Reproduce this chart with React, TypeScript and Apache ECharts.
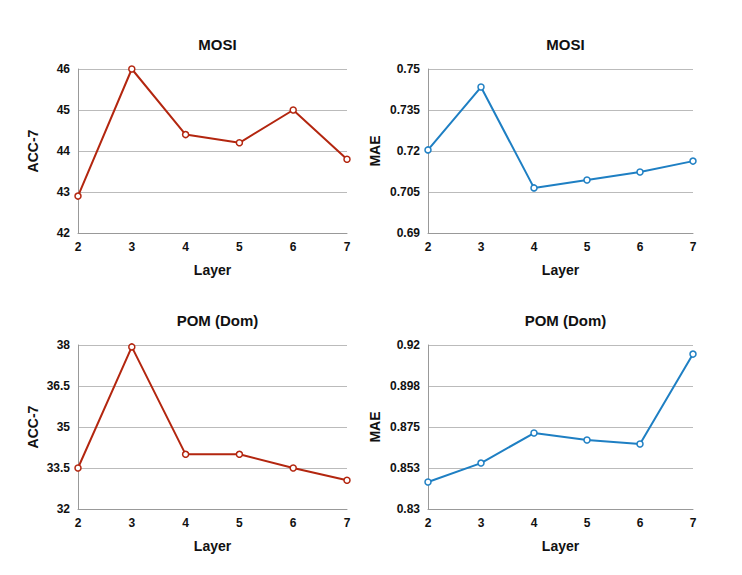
import { useEffect, useRef } from 'react';
import * as echarts from 'echarts';

const layers = ['2', '3', '4', '5', '6', '7'];
const mosiAcc = [42.9, 46.0, 44.4, 44.2, 45.0, 43.8];
const mosiMae = [0.7204, 0.7434, 0.7065, 0.7094, 0.7123, 0.7163];
const pomAcc = [33.5, 37.93, 34.0, 34.0, 33.5, 33.05];
const pomMae = [0.8448, 0.8552, 0.8717, 0.8679, 0.8657, 0.915];
const pomMaeTicks = ['0.83', '0.853', '0.875', '0.898', '0.92'];

const RED = '#b3260f';
const BLUE = '#1e7fc3';
const font = 'Liberation Sans, Arial, sans-serif';

export default function App() {
  const ref = useRef<HTMLDivElement>(null);

  useEffect(() => {
    if (!ref.current) return;
    const chart = echarts.init(ref.current, null, { renderer: 'svg' });
    // the body margin shifts everything 8px, so grids are placed 8px up/left
    const grids = [
      { left: 70, top: 61, width: 269, height: 164 },
      { left: 420, top: 61, width: 265, height: 164 },
      { left: 70, top: 337, width: 269, height: 164 },
      { left: 420, top: 337, width: 265, height: 164 },
    ];
    const titles = ['MOSI', 'MOSI', 'POM (Dom)', 'POM (Dom)'];
    const yNames = ['ACC-7', 'MAE', 'ACC-7', 'MAE'];
    const yCfg = [
      { min: 42, max: 46, interval: 1, fmt: (v: number) => String(v) },
      { min: 0.69, max: 0.75, interval: 0.015, fmt: (v: number) => String(+v.toFixed(3)) },
      { min: 32, max: 38, interval: 1.5, fmt: (v: number) => String(+v.toFixed(1)) },
      {
        min: 0.83,
        max: 0.92,
        interval: 0.0225,
        fmt: (v: number) => pomMaeTicks[Math.round((v - 0.83) / 0.0225)] ?? '',
      },
    ];
    const data = [mosiAcc, mosiMae, pomAcc, pomMae];
    const colors = [RED, BLUE, RED, BLUE];

    chart.setOption({
      animation: false,
      textStyle: { fontFamily: font },
      title: titles.map((t, i) => ({
        text: t,
        left: grids[i].left + grids[i].width / 2,
        textAlign: 'center',
        top: grids[i].top - 37,
        textStyle: { fontSize: 15, fontWeight: 'bold', color: '#111', fontFamily: font },
      })),
      grid: grids,
      xAxis: grids.map((_, i) => ({
        type: 'category',
        gridIndex: i,
        data: layers,
        boundaryGap: false,
        name: 'Layer',
        nameLocation: 'middle',
        nameGap: 30,
        nameTextStyle: { fontSize: 14, fontWeight: 'bold', color: '#111' },
        axisLine: { lineStyle: { color: '#999' } },
        axisTick: { show: false },
        axisLabel: { fontSize: 12, fontWeight: 'bold', color: '#111' },
      })),
      yAxis: grids.map((_, i) => ({
        type: 'value',
        gridIndex: i,
        min: yCfg[i].min,
        max: yCfg[i].max,
        interval: yCfg[i].interval,
        name: yNames[i],
        nameLocation: 'middle',
        nameGap: i % 2 === 0 ? 38 : 46,
        nameTextStyle: { fontSize: 14, fontWeight: 'bold', color: '#111' },
        axisLine: { show: true, lineStyle: { color: '#999' } },
        axisTick: { show: false },
        axisLabel: { fontSize: 12, fontWeight: 'bold', color: '#111', formatter: yCfg[i].fmt },
        splitLine: { lineStyle: { color: '#bbb' } },
      })),
      series: data.map((d, i) => ({
        type: 'line',
        xAxisIndex: i,
        yAxisIndex: i,
        data: d,
        symbol: 'circle',
        symbolSize: 6,
        lineStyle: { color: colors[i], width: 2 },
        itemStyle: { color: '#fff', borderColor: colors[i], borderWidth: 1.5 },
      })),
    });
    return () => chart.dispose();
  }, []);

  return <div ref={ref} style={{ width: 726, height: 559 }} />;
}
